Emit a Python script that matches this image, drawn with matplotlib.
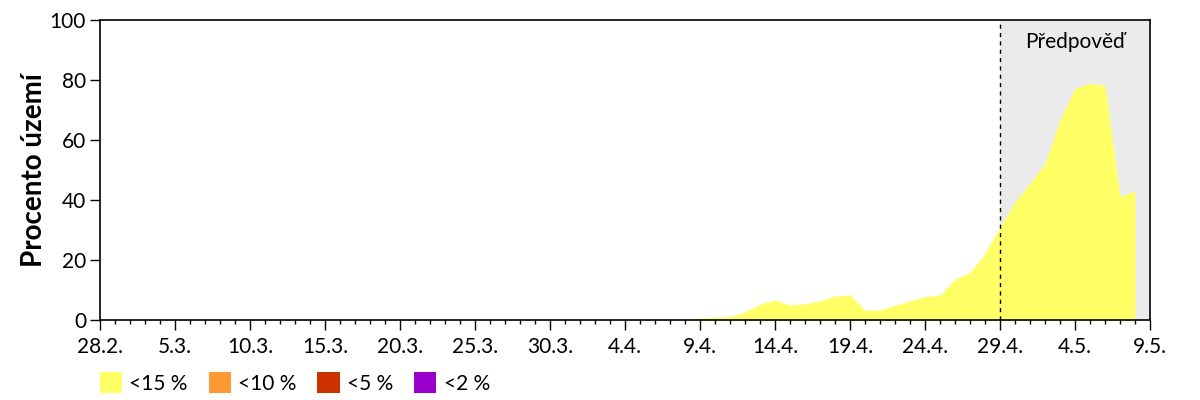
import matplotlib
matplotlib.use("Agg")
import matplotlib.pyplot as plt
import matplotlib.dates as mdates
from matplotlib.patches import Patch
import numpy as np
import pandas as pd

plt.rcParams['font.family'] = ['Lato', 'DejaVu Sans']

start_date = "2021-02-28"
forecast_start = "2021-04-29"
axis_end = "2021-05-09"
# percent of territory, one value per day from 28.2. to 8.5.
values_15 = [0]*39 + [0.3, 0.6, 0.9, 1.1, 2.7, 5.3, 6.7, 5.0, 5.4, 6.4,
                      8.0, 8.3, 3.3, 3.3, 4.9, 6.4, 7.8, 8.3, 13.6, 15.9,
                      22.2, 31.1, 39.4, 45.6, 52.2, 66.7, 77.2, 78.9, 78.3, 41.1,
                      43.1]
legend_labels = ["<15 %", "<10 %", "<5 %", "<2 %"]
legend_colors = ["#FFFF66", "#FF9933", "#CC3300", "#9900CC"]
forecast_label = "Předpověď"
ylabel = "Procento území"

dates = pd.date_range(start_date, periods=len(values_15), freq="D")

fig = plt.figure(figsize=(12, 4), dpi=100)
ax = fig.add_axes([100/1200, 80/400, 1050/1200, 300/400])

fs = pd.Timestamp(forecast_start)
ae = pd.Timestamp(axis_end)
ax.axvspan(fs, ae, color="#EBEBEB", lw=0, zorder=0)
ax.fill_between(dates, 0, values_15, color=legend_colors[0], lw=0, zorder=1)
ax.axvline(fs, color="black", lw=1, ls=(0, (3, 3)), zorder=2)

ax.set_xlim(pd.Timestamp(start_date), ae)
ax.set_ylim(0, 100)
ax.set_yticks([0, 20, 40, 60, 80, 100])

major = pd.date_range(start_date, axis_end, freq="5D")
ax.set_xticks(major)
ax.set_xticklabels([f"{d.day}.{d.month}." for d in major])
ax.xaxis.set_minor_locator(mdates.DayLocator())

ax.tick_params(axis="both", which="major", labelsize=15, direction="out", length=7, width=1, color="black")
ax.tick_params(axis="x", which="minor", direction="out", length=3, width=1)
ax.tick_params(axis="y", pad=3)
ax.tick_params(axis="x", pad=5)

for s in ax.spines.values():
    s.set_linewidth(1.2)

ax.set_ylabel(ylabel, fontsize=20, fontweight="bold")
ax.yaxis.set_label_coords(-0.05, 0.5)

ax.text(pd.Timestamp("2021-05-04"), 92.5, forecast_label, ha="center", va="center", fontsize=15)

handles = [Patch(facecolor=c, edgecolor="none") for c in legend_colors]
fig.legend(handles, legend_labels, loc="center left", bbox_to_anchor=(81/1200, 1-383/400),
           ncol=4, frameon=False, fontsize=15, handlelength=1.07, handleheight=1.15,
           handletextpad=0.35, columnspacing=1.0)

fig.savefig("out.png", dpi=100)
